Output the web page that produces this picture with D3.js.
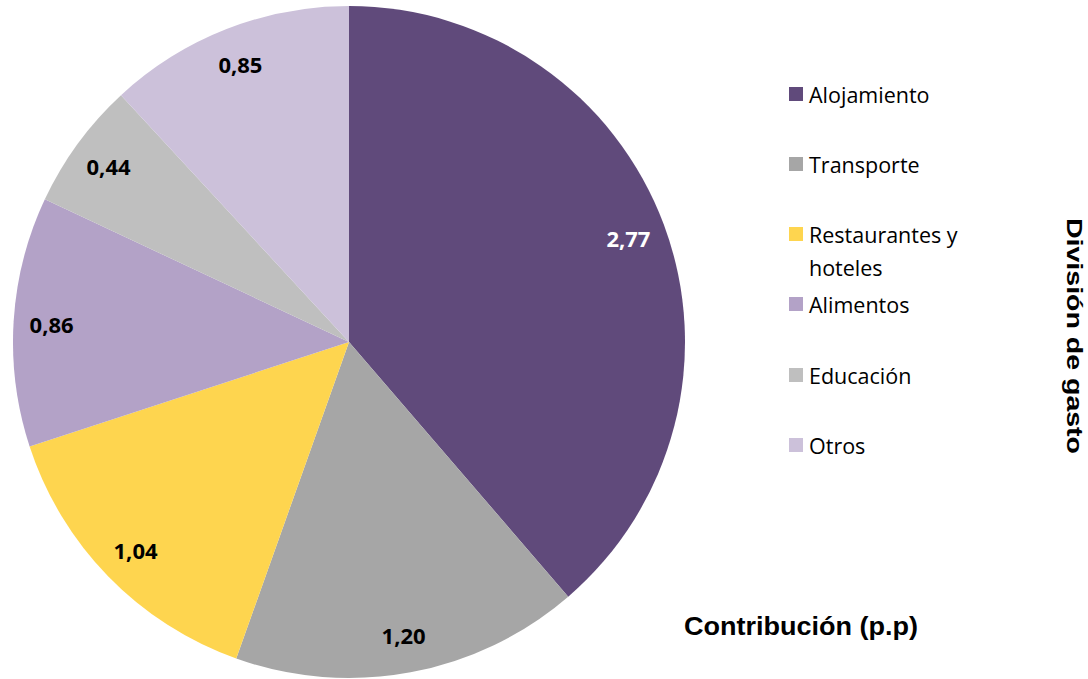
<!DOCTYPE html>
<html>
<head>
<meta charset="utf-8">
<script src="https://cdn.jsdelivr.net/npm/d3@7"></script>
<style>
  body { margin: 0; background: #fff; }
</style>
</head>
<body>
<div id="chart"></div>
<script>
let categories = ["Alojamiento", "Transporte", "Restaurantes y hoteles", "Alimentos", "Educación", "Otros"];
let values = [2.77, 1.20, 1.04, 0.86, 0.44, 0.85];
let colors = ["#604a7b", "#a6a6a6", "#fed54f", "#b3a2c7", "#bfbfbf", "#ccc1da"];
let labelColors = ["#fff", "#000", "#000", "#000", "#000", "#000"];
let legendLines = [["Alojamiento"], ["Transporte"], ["Restaurantes y", "hoteles"], ["Alimentos"], ["Educación"], ["Otros"]];

let width = 1088;
let height = 679;

let svg = d3
  .select("#chart")
  .append("svg")
  .attr("width", width)
  .attr("height", height);

let cx = 349;
let cy = 342;
let radius = 336;

let data = categories.map(function (c, i) {
  return { name: c, value: values[i], color: colors[i], label: labelColors[i] };
});

let pie = d3.pie().sort(null).value(function (d) { return d.value; });
let arc = d3.arc().innerRadius(0).outerRadius(radius);
let labelArc = d3.arc().innerRadius(298).outerRadius(298);

let g = svg.append("g").attr("transform", "translate(" + cx + "," + cy + ")");

g.selectAll(".slice")
  .data(pie(data))
  .enter()
  .append("path")
  .attr("class", "slice")
  .attr("d", arc)
  .style("fill", function (d) { return d.data.color; });

let fmt = function (v) { return d3.format(".2f")(v).replace(".", ","); };

g.selectAll(".lbl")
  .data(pie(data))
  .enter()
  .append("text")
  .attr("class", "lbl")
  .attr("transform", function (d) { return "translate(" + labelArc.centroid(d) + ")"; })
  .attr("text-anchor", "middle")
  .attr("dominant-baseline", "central")
  .style("font-family", "'Open Sans', sans-serif")
  .style("font-weight", "bold")
  .style("font-size", "22px")
  .style("fill", function (d) { return d.data.label; })
  .text(function (d) { return fmt(d.data.value); });

// legend
let legendY = [94, 164, 234, 304, 375, 445];
let legend = svg.selectAll(".legend")
  .data(data)
  .enter()
  .append("g")
  .attr("class", "legend")
  .attr("transform", function (d, i) { return "translate(789," + legendY[i] + ")"; });

legend.append("rect")
  .attr("x", 0)
  .attr("y", -7)
  .attr("width", 14)
  .attr("height", 14)
  .style("fill", function (d) { return d.color; });

legend.append("text")
  .attr("x", 20)
  .attr("y", 0)
  .attr("dominant-baseline", "central")
  .style("font-family", "'Open Sans', sans-serif")
  .style("font-size", "21.5px")
  .style("fill", "#000")
  .selectAll("tspan")
  .data(function (d, i) { return legendLines[i]; })
  .enter()
  .append("tspan")
  .attr("x", 20)
  .attr("dy", function (d, i) { return i == 0 ? 0 : 33; })
  .text(function (d) { return d; });

// titles
svg.append("text")
  .attr("x", 801)
  .attr("y", 626)
  .attr("text-anchor", "middle")
  .attr("dominant-baseline", "central")
  .attr("textLength", 234)
  .attr("lengthAdjust", "spacingAndGlyphs")
  .style("font-family", "'Liberation Sans', Arial, sans-serif")
  .style("font-weight", "bold")
  .style("font-size", "25px")
  .text("Contribución (p.p)");

svg.append("text")
  .attr("transform", "translate(1074,336) rotate(90)")
  .attr("text-anchor", "middle")
  .attr("dominant-baseline", "central")
  .attr("textLength", 236)
  .attr("lengthAdjust", "spacingAndGlyphs")
  .style("font-family", "'Liberation Sans', Arial, sans-serif")
  .style("font-weight", "bold")
  .style("font-size", "22px")
  .text("División de gasto");
</script>
</body>
</html>
